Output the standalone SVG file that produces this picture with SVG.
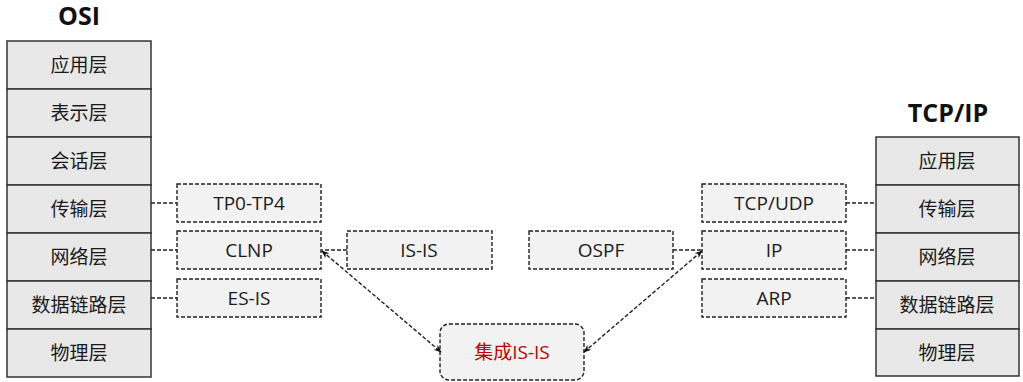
<svg xmlns="http://www.w3.org/2000/svg" width="1023" height="382" viewBox="0 0 1023 382">
<style>
text{font-family:"Open Sans","Noto Sans CJK SC",sans-serif;font-size:19px;fill:#1a1a1a;text-anchor:middle}
.title{font-size:25px;font-weight:bold;fill:#111}
.layer{fill:#e8e8e8;stroke:#333;stroke-width:1.5}
.dbox{fill:#f2f2f2;stroke:#222;stroke-width:1.4;stroke-dasharray:4 2}
.conn{fill:none;stroke:#222;stroke-width:1.4;stroke-dasharray:4 2}
.red{fill:#c00000}
</style>
<defs>
<marker id="ah" markerUnits="userSpaceOnUse" markerWidth="8" markerHeight="8" viewBox="0 0 10 10" refX="9" refY="5" orient="auto-start-reverse">
<path d="M0,1 L10,5 L0,9 L3,5 z" fill="#111"/>
</marker>
</defs>

<g id="osi">
<text class="title" x="79" y="25">OSI</text>
<rect class="layer" x="7" y="41" width="144" height="48"/><text x="79" y="72">应用层</text>
<rect class="layer" x="7" y="89" width="144" height="48"/><text x="79" y="120">表示层</text>
<rect class="layer" x="7" y="137" width="144" height="48"/><text x="79" y="168">会话层</text>
<rect class="layer" x="7" y="185" width="144" height="48"/><text x="79" y="216">传输层</text>
<rect class="layer" x="7" y="233" width="144" height="48"/><text x="79" y="264">网络层</text>
<rect class="layer" x="7" y="281" width="144" height="48"/><text x="79" y="312">数据链路层</text>
<rect class="layer" x="7" y="329" width="144" height="48"/><text x="79" y="360">物理层</text>
</g>

<g id="tcpip">
<text class="title" x="948" y="122">TCP/IP</text>
<rect class="layer" x="876" y="137" width="143" height="48"/><text x="947" y="168">应用层</text>
<rect class="layer" x="876" y="185" width="143" height="48"/><text x="947" y="216">传输层</text>
<rect class="layer" x="876" y="233" width="143" height="48"/><text x="947" y="264">网络层</text>
<rect class="layer" x="876" y="281" width="143" height="48"/><text x="947" y="312">数据链路层</text>
<rect class="layer" x="876" y="329" width="143" height="47"/><text x="947" y="360">物理层</text>
</g>

<g id="tp0-tp4"><rect class="dbox" x="177" y="184" width="144" height="38"/><text x="249" y="210">TP0-TP4</text></g>
<g id="clnp"><rect class="dbox" x="177" y="231" width="144" height="38"/><text x="249" y="257">CLNP</text></g>
<g id="es-is"><rect class="dbox" x="177" y="279" width="144" height="38"/><text x="249" y="305">ES-IS</text></g>
<g id="is-is"><rect class="dbox" x="347" y="231" width="145" height="38"/><text x="419" y="257">IS-IS</text></g>
<g id="ospf"><rect class="dbox" x="529" y="231" width="144" height="38"/><text x="601" y="257">OSPF</text></g>
<g id="tcp-udp"><rect class="dbox" x="702" y="184" width="144" height="38"/><text x="774" y="210">TCP/UDP</text></g>
<g id="ip"><rect class="dbox" x="702" y="231" width="144" height="38"/><text x="774" y="257">IP</text></g>
<g id="arp"><rect class="dbox" x="702" y="279" width="144" height="38"/><text x="774" y="305">ARP</text></g>
<g id="integrated-is-is"><rect class="dbox" x="440" y="324" width="144" height="56" rx="9"/><text class="red" x="512" y="359">集成IS-IS</text></g>

<g id="connectors">
<line class="conn" x1="151" y1="203" x2="177" y2="203"/>
<line class="conn" x1="151" y1="250" x2="177" y2="250"/>
<line class="conn" x1="151" y1="298" x2="177" y2="298"/>
<line class="conn" x1="846" y1="203" x2="876" y2="203"/>
<line class="conn" x1="846" y1="250" x2="876" y2="250"/>
<line class="conn" x1="846" y1="298" x2="876" y2="298"/>
<line class="conn" x1="347" y1="250" x2="322" y2="250"/>
<line class="conn" x1="673" y1="250" x2="701" y2="250"/>
<line class="conn" x1="322" y1="251" x2="441" y2="352" marker-start="url(#ah)" marker-end="url(#ah)"/>
<line class="conn" x1="584" y1="352" x2="702" y2="251" marker-start="url(#ah)" marker-end="url(#ah)"/>
</g>
</svg>
